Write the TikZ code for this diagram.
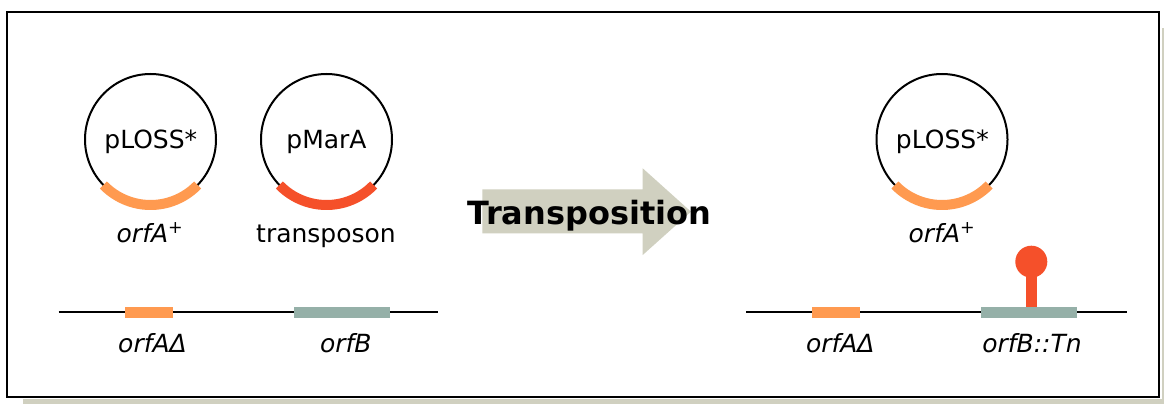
\documentclass[tikz,border=0pt]{standalone}
\usepackage{fontspec}
\setmainfont{DejaVu Sans}
\definecolor{orfAcol}{RGB}{255,154,80}
\definecolor{tncol}{RGB}{245,80,42}
\definecolor{orfBcol}{RGB}{149,176,168}
\definecolor{arrowcol}{RGB}{208,208,192}
\definecolor{shadowcol}{RGB}{208,208,192}
\begin{document}
\begin{tikzpicture}[x=1pt,y=-1pt,
  plasmid/.style={circle,draw=black,line width=2pt,minimum size=131pt,inner sep=0pt},
  lbl/.style={font=\fontsize{25}{29}\selectfont,inner sep=0pt,anchor=base},
  ilbl/.style={lbl,font=\fontsize{25}{29}\selectfont\itshape},
  gene/.style={inner sep=0pt,minimum height=10.5pt,draw=none},
  chrom/.style={line width=2pt,black},
  insert/.style={line width=10pt}]
\useasboundingbox (0,0) rectangle (1164,404);
\fill[white] (0,0) rectangle (1164,404);
% drop shadow and frame
\fill[shadowcol] (23,399) rectangle (1164,404);
\fill[shadowcol] (1162,28) rectangle (1164,404);
\draw[line width=2pt] (7,12) rectangle (1159,397);

% ---- left: plasmids ----
\node[plasmid] (ploss) at (150.5,139.5) {};
\node[plasmid] (pmara) at (326.5,139.5) {};
\draw[orfAcol,insert] (ploss.center) ++(44:65.5) arc[start angle=44,end angle=136,radius=65.5];
\draw[tncol,insert] (pmara.center) ++(44:65.5) arc[start angle=44,end angle=136,radius=65.5];
\node[lbl] (plossname) at (150.8,148.3) {pLOSS*};
\node[lbl] (pmaraname) at (326.5,148.3) {pMarA};
\node[ilbl] (orfAplus) at (150,242.7) {orfA\textsuperscript{\upshape +}};
\node[lbl] (tnname) at (326,242.7) {transposon};

% ---- left: chromosome ----
\coordinate (chl) at (58.7,312.3);
\coordinate (chr) at (438,312.3);
\draw[chrom] (chl) -- (chr);
\node[gene,fill=orfAcol,minimum width=48pt] (orfAd) at (148.7,312.3) {};
\node[gene,fill=orfBcol,minimum width=96pt] (orfB) at (342,312.3) {};
\node[ilbl] (orfAdname) at (152.5,352.7) {orfAΔ};
\node[ilbl] (orfBname) at (345.8,352.7) {orfB};

% ---- arrow ----
\fill[arrowcol] (482.3,189.3) -- (642.7,189.3) -- (642.7,168.3) -- (691,211.7)
  -- (642.7,255) -- (642.7,233.3) -- (482.3,233.3) -- cycle;
\node[lbl,font=\fontsize{32}{37}\selectfont\bfseries] (transp) at (589.5,224) {Transposition};

% ---- right: plasmid ----
\node[plasmid] (ploss2) at (942,139.5) {};
\draw[orfAcol,insert] (ploss2.center) ++(44:65.5) arc[start angle=44,end angle=136,radius=65.5];
\node[lbl] (ploss2name) at (942.3,148.3) {pLOSS*};
\node[ilbl] (orfAplus2) at (942,242.7) {orfA\textsuperscript{\upshape +}};

% ---- right: chromosome with insertion ----
\coordinate (chl2) at (746,312.3);
\coordinate (chr2) at (1126.7,312.3);
\draw[chrom] (chl2) -- (chr2);
\node[gene,fill=orfAcol,minimum width=48pt] (orfAd2) at (836,312.3) {};
\node[gene,fill=orfBcol,minimum width=96pt] (orfB2) at (1029,312.3) {};
\node[circle,fill=tncol,minimum size=32pt,inner sep=0pt] (tnhead) at (1031.3,261.7) {};
\draw[tncol,line width=11pt] (tnhead.center) -- (tnhead.center |- orfB2.north);
\node[ilbl] (orfAd2name) at (840.3,352.7) {orfAΔ};
\node[ilbl] (orfB2name) at (1032,352.7) {orfB::Tn};
\end{tikzpicture}
\end{document}
